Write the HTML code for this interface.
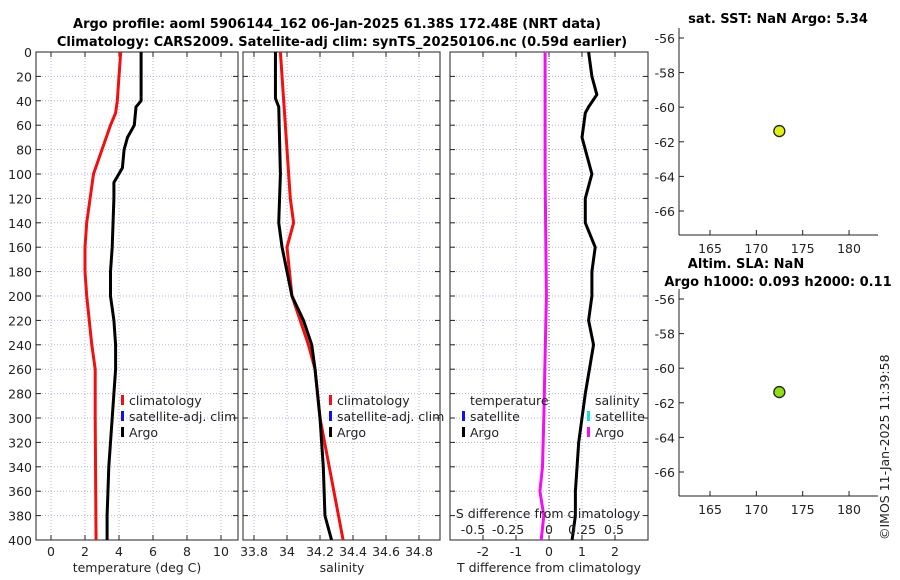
<!DOCTYPE html>
<html><head><meta charset="utf-8"><style>
body{margin:0;background:#fff;}
svg{display:block;font-family:"DejaVu Sans","Liberation Sans",sans-serif;}
</style></head><body>
<svg id="c" width="900" height="580" viewBox="0 0 900 580">
<text x="337" y="28" text-anchor="middle" font-size="13" font-weight="bold">Argo profile: aoml 5906144_162 06-Jan-2025 61.38S 172.48E (NRT data)</text>
<text x="342" y="46" text-anchor="middle" font-size="13" font-weight="bold">Climatology: CARS2009. Satellite-adj clim: synTS_20250106.nc (0.59d earlier)</text>
<text x="778" y="23" text-anchor="middle" font-size="13" font-weight="bold">sat. SST: NaN Argo: 5.34</text>
<text x="746" y="268" text-anchor="middle" font-size="13" font-weight="bold">Altim. SLA: NaN</text>
<text x="778" y="286" text-anchor="middle" font-size="13" font-weight="bold">Argo h1000: 0.093 h2000: 0.11</text>
<text transform="translate(889,540) rotate(-90)" font-size="12.5" fill="#222">©IMOS 11-Jan-2025 11:39:58</text>
</svg>
<script>
// ---- data ----
const depthTicks=[0,20,40,60,80,100,120,140,160,180,200,220,240,260,280,300,320,340,360,380,400];
const tTicks=[0,2,4,6,8,10];
const sTicks=[33.8,34,34.2,34.4,34.6,34.8];
const dTTicks=[-2,-1,0,1,2];
const dSTicks=[-0.5,-0.25,0,0.25,0.5];
const argoTDepth=[0,20,40,45,60,70,80,95,107,120,160,180,200,220,240,260,280,300,340,380,400];
const argoT=[5.3,5.3,5.3,5.0,4.9,4.5,4.3,4.2,3.7,3.7,3.6,3.5,3.5,3.7,3.8,3.8,3.7,3.6,3.4,3.3,3.3];
const climTDepth=[0,20,40,50,60,80,100,120,140,160,180,200,240,260,300,400];
const climT=[4.1,4.0,3.9,3.8,3.5,3.0,2.5,2.3,2.1,2.0,2.0,2.1,2.4,2.6,2.6,2.65];
const argoSDepth=[0,38,45,100,140,160,180,200,220,240,260,300,340,380,400];
const argoS=[33.93,33.93,33.95,33.96,33.95,33.97,34.0,34.03,34.1,34.15,34.17,34.2,34.22,34.23,34.27];
const climSDepth=[0,120,140,160,200,240,260,300,400];
const climS=[33.96,34.02,34.04,34.0,34.03,34.13,34.17,34.2,34.34];
const dTDepth=[0,20,35,45,50,70,100,120,140,160,180,200,220,240,280,320,360,380,400];
const dT=[1.2,1.3,1.45,1.2,1.1,1.0,1.3,1.1,1.1,1.4,1.3,1.3,1.2,1.35,1.1,0.9,0.8,0.8,0.7];
const dSDepth=[0,100,200,300,340,360,380,400];
const dS=[-0.03,-0.03,-0.02,-0.04,-0.05,-0.07,-0.04,-0.06];
const latTicks=[-56,-58,-60,-62,-64,-66];
const lonTicks=[165,170,175,180];
const floatLon=[172.48];
const floatLat=[-61.38];

const svg=document.getElementById('c');
const NS='http://www.w3.org/2000/svg';
function mk(tag,attrs,parent){const e=document.createElementNS(NS,tag);for(const k in attrs)e.setAttribute(k,attrs[k]);(parent||svg).appendChild(e);return e;}
function txt(x,y,s,anchor,parent){const t=mk('text',{x:x,y:y,'font-size':12.5,fill:'#222','text-anchor':anchor||'middle'},parent);t.textContent=s;return t;}

const Y0=52,Y1=540;
const yD=d=>Y0+(d/400)*(Y1-Y0);
function panel(name,x0,x1,xs,ticks,fmt,showY){
  const g=mk('g',{});
  
  
  ticks.forEach(v=>{const x=xs(v);mk('line',{x1:x,y1:Y0,x2:x,y2:Y1,stroke:'#c8a8d8','stroke-dasharray':'1,2','stroke-width':1},g);
    mk('line',{x1:x,y1:Y1,x2:x,y2:Y1-5,stroke:'#222'},g);mk('line',{x1:x,y1:Y0,x2:x,y2:Y0+5,stroke:'#222'},g);
    if(fmt){const t=txt(x,556,fmt(v),'middle',g);}});
  depthTicks.forEach(d=>{const y=yD(d);mk('line',{x1:x0,y1:y,x2:x1,y2:y,stroke:'#b0b8e0','stroke-dasharray':'1,2','stroke-width':1},g);
    mk('line',{x1:x0,y1:y,x2:x0+5,y2:y,stroke:'#222'},g);mk('line',{x1:x1,y1:y,x2:x1-5,y2:y,stroke:'#222'},g);
    if(showY){const t=txt(x0-4,y+5,String(d),'end',g);}});
  mk('rect',{x:x0,y:Y0,width:x1-x0,height:Y1-Y0,fill:'none',stroke:'#222','stroke-width':1},g);
  return g;
}
function line(xs,vals,depths,color,name,w){
  const p=mk('polyline',{points:vals.map((v,i)=>xs(v)+','+yD(depths[i])).join(' '),fill:'none',stroke:color,'stroke-width':w||3,'stroke-linejoin':'round'});
  
  
}
function legend(x,y,items,g){items.forEach((it,i)=>{const yy=y+i*16;if(it[1])mk('rect',{x:x,y:yy-10,width:3,height:10,fill:it[1]},g);txt(x+8,yy,it[0],'start',g);});}

// panel 1 temperature
const xT=v=>51+v*17;
const p1=panel('temperature-panel',36,238,xT,tTicks,v=>String(v),true);
line(xT,climT,climTDepth,'#f01010','climatology-temperature-line');
line(xT,argoT,argoTDepth,'#000','argo-temperature-line');
const l1=mk('g',{});
legend(121,405,[['climatology','#f01010'],['satellite-adj. clim','#1010f0'],['Argo','#000']],l1);
txt(137,572,'temperature (deg C)');

// panel 2 salinity
const xS=v=>254+(v-33.8)*165;
const p2=panel('salinity-panel',243,440,xS,sTicks,v=>String(+v.toFixed(1)),false);
line(xS,climS,climSDepth,'#f01010','climatology-salinity-line');
line(xS,argoS,argoSDepth,'#000','argo-salinity-line');
const l2=mk('g',{});
legend(329,405,[['climatology','#f01010'],['satellite-adj. clim','#1010f0'],['Argo','#000']],l2);
txt(342,572,'salinity');

// panel 3 differences
const xDT=v=>549+v*33;
const xDS=v=>549+v*130;
const p3=panel('difference-panel',450,648,xDT,dTTicks,v=>String(v),false);
mk('line',{x1:549,y1:Y0,x2:549,y2:Y1,stroke:'#556','stroke-dasharray':'1,2'});
line(xDS,dS,dSDepth,'#f010f0','argo-salinity-difference-line');
line(xDT,dT,dTDepth,'#000','argo-temperature-difference-line');
const l3=mk('g',{});
txt(470,405,'temperature','start',l3);legend(462,421,[['satellite','#1010f0'],['Argo','#000']],l3);
txt(595,405,'salinity','start',l3);legend(587,421,[['satellite','#10e0e0'],['Argo','#f010f0']],l3);
const st=txt(548,518,'S difference from climatology');
[['-0.5',473],['-0.25',508],['0',549],['0.25',582],['0.5',614]].forEach(a=>{const t=txt(a[1],534,a[0]);});
txt(549,572,'T difference from climatology');

// map panels
function mapPanel(name,top,dotColor){
  const x0=679,x1=878,yb=top+207;
  const lat=v=>top+10+(-56-v)*17.3;
  const lon=v=>710+(v-165)*9.27;
  const g=mk('g',{});
  mk('line',{x1:x0,y1:top,x2:x0,y2:yb,stroke:'#222'},g);
  mk('line',{x1:x0,y1:yb,x2:x1,y2:yb,stroke:'#222'},g);
  latTicks.forEach(v=>{const y=lat(v);mk('line',{x1:x0,y1:y,x2:x0+5,y2:y,stroke:'#222'},g);const t=txt(x0-4,y+5,String(v),'end',g);});
  lonTicks.forEach(v=>{const x=lon(v);mk('line',{x1:x,y1:yb,x2:x,y2:yb-5,stroke:'#222'},g);const t=txt(x,yb+18,String(v),'middle',g);});
  floatLon.forEach((v,i)=>{const c=mk('circle',{cx:lon(v),cy:lat(floatLat[i]),r:5.5,fill:dotColor,stroke:'#222','stroke-width':1.3},g);
    
    });
}
mapPanel('sst-map',28,'#e0f010');
mapPanel('sla-map',289,'#90e010');
</script>
</body></html>
